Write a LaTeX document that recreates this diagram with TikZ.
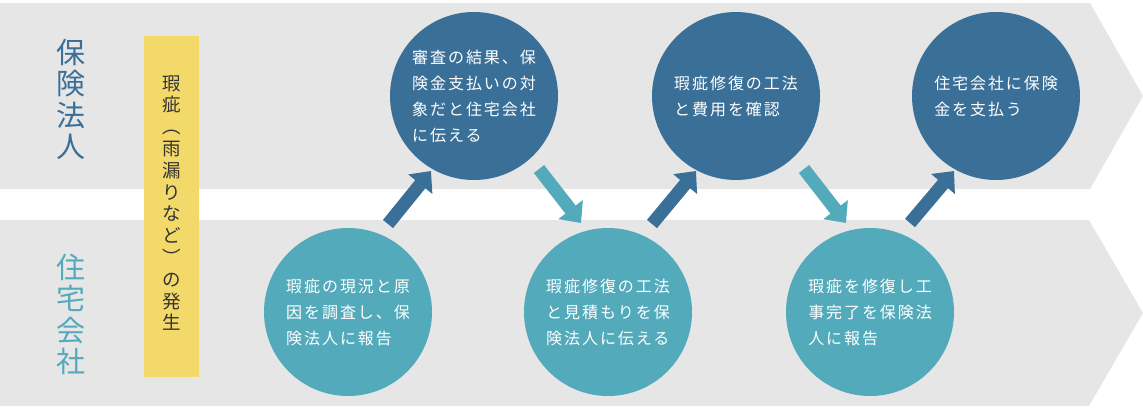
\documentclass[tikz,border=0pt]{standalone}
\usepackage{fontspec}
\setmainfont{Noto Sans CJK JP}
\usetikzlibrary{arrows.meta}
\definecolor{dblue}{HTML}{3A6F98}
\definecolor{teal2}{HTML}{53AABB}
\definecolor{bandgray}{HTML}{E6E6E6}
\definecolor{yel}{HTML}{F3D96A}
\definecolor{ytext}{HTML}{333333}
\newcommand\mycircfont{\fontsize{16}{26}\selectfont\addfontfeatures{LetterSpace=12}}
\tikzset{
  band/.style={fill=bandgray, draw=none},
  circbase/.style={circle, minimum size=168pt, inner sep=0pt, text=white, align=left, font=\mycircfont},
  topcirc/.style={circbase, fill=dblue},
  botcirc/.style={circbase, fill=teal2},
  uparrow/.style={draw=dblue, line width=13pt, -{Triangle[width=30pt,length=17pt]}},
  downarrow/.style={draw=teal2, line width=13pt, -{Triangle[width=30pt,length=17pt]}},
  sidelabel/.style={align=center, font=\fontsize{29}{31.5}\selectfont},
}
\begin{document}
\begin{tikzpicture}[x=1pt,y=-1pt]
\useasboundingbox (0,0) rectangle (1143,407);
% bands
\fill[band] (0,3) -- (1090,3) -- (1143,96) -- (1090,189) -- (0,189) -- cycle;
\fill[band] (0,220) -- (1089,220) -- (1143,313) -- (1089,406) -- (0,406) -- cycle;
% side labels
\node[sidelabel, text=dblue] (lab1) at (71,99.5) {保\\険\\法\\人};
\node[sidelabel, text=teal2] (lab2) at (71,314.5) {住\\宅\\会\\社};
% yellow box
\node[fill=yel, minimum width=55pt, minimum height=341pt, inner sep=0pt] (ybox) at (171.5,206.5) {};
\node[align=center, text=ytext, font=\fontsize{18.5}{21.8}\selectfont] (ytxt) at (171.5,203) {瑕\\疵\\︵\\雨\\漏\\り\\な\\ど\\︶\\の\\発\\生};
% circles
\node[topcirc] (c1) at (474,96) {審査の結果、保\\険金支払いの対\\象だと住宅会社\\に伝える};
\node[topcirc] (c2) at (736,96) {瑕疵修復の工法\\と費用を確認};
\node[topcirc] (c3) at (996,96) {住宅会社に保険\\金を支払う};
\node[botcirc] (c4) at (348,312) {瑕疵の現況と原\\因を調査し、保\\険法人に報告};
\node[botcirc] (c5) at (608,312) {瑕疵修復の工法\\と見積もりを保\\険法人に伝える};
\node[botcirc] (c6) at (870,312) {瑕疵を修復し工\\事完了を保険法\\人に報告};
% arrow end points
\coordinate (a1s) at (388,224); \coordinate (a1e) at (431,171);
\coordinate (a2s) at (539,169); \coordinate (a2e) at (581,223);
\coordinate (a3s) at (652,224); \coordinate (a3e) at (696,171);
\coordinate (a4s) at (804,169); \coordinate (a4e) at (846,223);
\coordinate (a5s) at (910,223); \coordinate (a5e) at (954,171);
\draw[uparrow] (a1s) -- (a1e);
\draw[downarrow] (a2s) -- (a2e);
\draw[uparrow] (a3s) -- (a3e);
\draw[downarrow] (a4s) -- (a4e);
\draw[uparrow] (a5s) -- (a5e);
\end{tikzpicture}
\end{document}
